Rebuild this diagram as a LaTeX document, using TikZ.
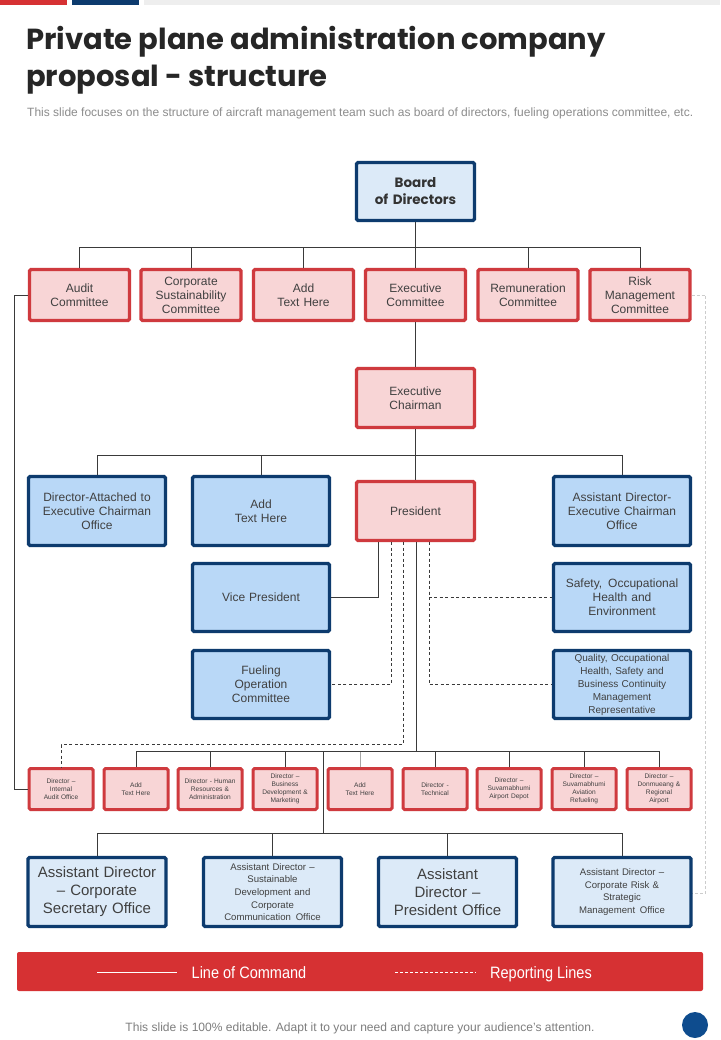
\documentclass[tikz,border=0pt]{standalone}
\usepackage{fontspec}
\setmainfont{Liberation Sans}
\newfontfamily\titlefont{Poppins}
\usetikzlibrary{calc}
\definecolor{boxred}{HTML}{CF3A3E}
\definecolor{pinkfill}{HTML}{F8D5D6}
\definecolor{navy}{HTML}{0D3B6E}
\definecolor{midblue}{HTML}{B9D8F7}
\definecolor{lightblue}{HTML}{DCEAF8}
\definecolor{txt}{HTML}{404040}
\definecolor{legendred}{HTML}{D63133}
\definecolor{subgray}{HTML}{8C8C8C}
\definecolor{linegray}{HTML}{3A3A3A}
\definecolor{bargray}{HTML}{EEEEEE}
\definecolor{dotgray}{HTML}{CCCCCC}
\definecolor{circblue}{HTML}{0E4C8E}
\tikzset{
  basebox/.style={line width=3.4pt, rounded corners=1.5pt, inner sep=1pt, align=center, text=txt},
  redbox/.style={basebox, draw=boxred, fill=pinkfill},
  bluebox/.style={basebox, draw=navy, fill=midblue},
  lbluebox/.style={basebox, draw=navy, fill=lightblue},
  cmte/.style={redbox, minimum width=100pt, minimum height=51pt, text width=96pt, font=\fontsize{12}{14}\selectfont},
  midbox/.style={bluebox, minimum width=137pt, minimum height=69pt, text width=132pt, font=\fontsize{12}{14}\selectfont},
  small/.style={redbox, line width=3pt, minimum width=64pt, minimum height=41pt, text width=62pt, font=\fontsize{6.6}{8}\selectfont},
  asst/.style={lbluebox, minimum width=138pt, minimum height=69pt, text width=134pt},
  conn/.style={draw=linegray, line width=0.9pt},
  rep/.style={draw=linegray, line width=0.9pt, dash pattern=on 3pt off 2.5pt},
  legtext/.style={text=white, font=\fontsize{16.5}{19}\selectfont, inner sep=0, anchor=base},
}
\begin{document}
\begin{tikzpicture}[x=1pt,y=-1pt]
\useasboundingbox (0,0) rectangle (720,1040);
\fill[white] (0,0) rectangle (720,1040);
% top bars
\fill[legendred] (0,0) rectangle (67,5);
\fill[navy] (72,0) rectangle (139,5);
\fill[bargray] (144,0) rectangle (720,5);
% title
\node[anchor=west, text=black!85, font=\titlefont\bfseries\fontsize{29}{37}\selectfont, align=left, inner sep=0] (title) at (26,60) {Private plane administration company\\proposal - structure};
\node[anchor=west, inner sep=0, text=subgray] (sub) at (27,113) {\resizebox{666pt}{!}{\fontsize{11}{13}\selectfont This slide focuses on the structure of aircraft management team such as board of directors, fueling operations committee, etc.}};

% board
\node[lbluebox, minimum width=118pt, minimum height=58pt, text width=112pt, font=\titlefont\bfseries\fontsize{13.5}{17}\selectfont, text=black!80] (board) at (415.5,191.5) {Board\\of Directors};
% committees
\node[cmte] (c1) at (79.5,295) {Audit\\Committee};
\node[cmte] (c2) at (191,295) {Corporate\\Sustainability\\Committee};
\node[cmte] (c3) at (303.5,295) {Add\\Text Here};
\node[cmte] (c4) at (415.5,295) {Executive\\Committee};
\node[cmte] (c5) at (528,295) {Remuneration\\Committee};
\node[cmte] (c6) at (640,295) {Risk\\Management\\Committee};
\coordinate (bus1) at (415.5,247);
\draw[conn] (board.south) -- (bus1);
\draw[conn] (c1.north) -- (c1.north |- bus1) -- (c6.north |- bus1) -- (c6.north);
\foreach \n in {c2,c3,c4,c5} \draw[conn] (\n.north) -- (\n.north |- bus1);

% exec chairman
\node[redbox, minimum width=118pt, minimum height=59pt, text width=112pt, font=\fontsize{12}{14}\selectfont] (ec) at (415.5,398) {Executive\\Chairman};
\draw[conn] (c4.south) -- (ec.north);

% middle row
\node[midbox] (da) at (97,511) {Director-Attached to\\Executive Chairman\\Office};
\node[midbox] (at2) at (261,511) {Add\\Text Here};
\node[redbox, minimum width=118pt, minimum height=59pt, text width=112pt, font=\fontsize{12}{14}\selectfont] (pres) at (415.5,511) {President};
\node[midbox] (aeco) at (622,511) {Assistant Director-\\Executive Chairman\\Office};
\coordinate (bus2) at (415.5,455);
\draw[conn] (ec.south) -- (pres.north);
\draw[conn] (da.north) -- (da.north |- bus2) -- (aeco.north |- bus2) -- (aeco.north);
\draw[conn] (at2.north) -- (at2.north |- bus2);

\node[midbox, minimum height=68pt] (vp) at (261,597.5) {Vice President};
\node[midbox, minimum height=68pt] (fuel) at (261,684.5) {Fueling\\Operation\\Committee};
\node[midbox, minimum height=68pt] (safe) at (622,597.5) {Safety,\, Occupational\\Health and\\Environment};
\node[midbox, minimum height=68pt, font=\fontsize{10}{13}\selectfont] (qual) at (622,684.5) {Quality, Occupational\\Health, Safety and\\Business Continuity\\Management\\Representative};

\draw[conn] ([xshift=-37.5pt]pres.south) |- (vp.east);
\draw[rep] ([xshift=-24.5pt]pres.south) |- (fuel.east);
\draw[rep] ([xshift=13.5pt]pres.south) |- (safe.west);
\draw[rep] ([xshift=13.5pt]pres.south) |- (qual.west);

% bottom row
\node[small] (b1) at (61,789) {Director --\\Internal\\Audit Office};
\node[small] (b2) at (136,789) {Add\\Text Here};
\node[small] (b3) at (210,789) {Director - Human\\Resources \&\\Administration};
\node[small] (b4) at (285,789) {Director --\\Business\\Development \&\\Marketing};
\node[small] (b5) at (360,789) {Add\\Text Here};
\node[small] (b6) at (435,789) {Director -\\Technical};
\node[small] (b7) at (509,789) {Director --\\Suvarnabhumi\\Airport Depot};
\node[small] (b8) at (584,789) {Director --\\Suvarnabhumi\\Aviation\\Refueling};
\node[small] (b9) at (659,789) {Director --\\Donmueang \&\\Regional\\Airport};

\coordinate (bus3) at (416.5,751.5);
\draw[conn] ([xshift=1pt]pres.south) -- (bus3);
\draw[conn] (b2.north) -- (b2.north |- bus3) -- (b9.north |- bus3) -- (b9.north);
\foreach \n in {b3,b4,b6,b7,b8} \draw[conn] (\n.north) -- (\n.north |- bus3);
\draw[draw=black!35, line width=0.9pt] (b5.north) -- (b5.north |- bus3);
\draw[rep] ([xshift=-12.5pt]pres.south) -- ++(0,202.5) -| (b1.north);
\draw[conn] (c1.west) -- ++(-13,0) |- (b1.west);
\draw[draw=dotgray, line width=0.7pt, dash pattern=on 3pt off 2pt] (c6.east) -- ++(14,0) |- (622,893);

% assistants
\node[asst, font=\fontsize{15}{18}\selectfont] (a1) at (97,892) {Assistant Director\\-- Corporate\\Secretary Office};
\node[asst, font=\fontsize{9.6}{12.7}\selectfont] (a2) at (272.5,892) {Assistant Director --\\Sustainable\\Development and\\Corporate\\Communication\, Office};
\node[asst, font=\fontsize{15}{18}\selectfont] (a3) at (447.5,892) {Assistant\\Director --\\President Office};
\node[asst, font=\fontsize{9.6}{12.7}\selectfont] (a4) at (622,892) {Assistant Director --\\Corporate Risk \&\\Strategic\\Management\, Office};
\coordinate (bus4) at (323,833);
\draw[conn] (bus3 -| bus4) -- (bus4);
\draw[conn] (a1.north) -- (a1.north |- bus4) -- (a4.north |- bus4) -- (a4.north);
\foreach \n in {a2,a3} \draw[conn] (\n.north) -- (\n.north |- bus4);

% legend
\node[fill=legendred, rounded corners=2pt, minimum width=686pt, minimum height=39pt, inner sep=0] (leg) at (360,971.5) {};
\coordinate (l1a) at (97,972);
\coordinate (l1b) at (177,972);
\coordinate (l2a) at (395,972);
\coordinate (l2b) at (476,972);
\draw[white, line width=0.8pt] (l1a) -- (l1b);
\draw[white, line width=0.8pt, dash pattern=on 3pt off 2pt] (l2a) -- (l2b);
\node[legtext] (lt1) at (249,978) {\scalebox{0.88}[1]{Line of Command}};
\node[legtext] (lt2) at (541,978) {\scalebox{0.88}[1]{Reporting Lines}};

% footer
\node[text=subgray!90!black, inner sep=0] (foot) at (360,1028) {\resizebox{469pt}{!}{\fontsize{11}{13}\selectfont This slide is 100\% editable. Adapt it to your need and capture your audience's attention.}};
\fill[circblue] (695,1025) circle (13);
\end{tikzpicture}
\end{document}
